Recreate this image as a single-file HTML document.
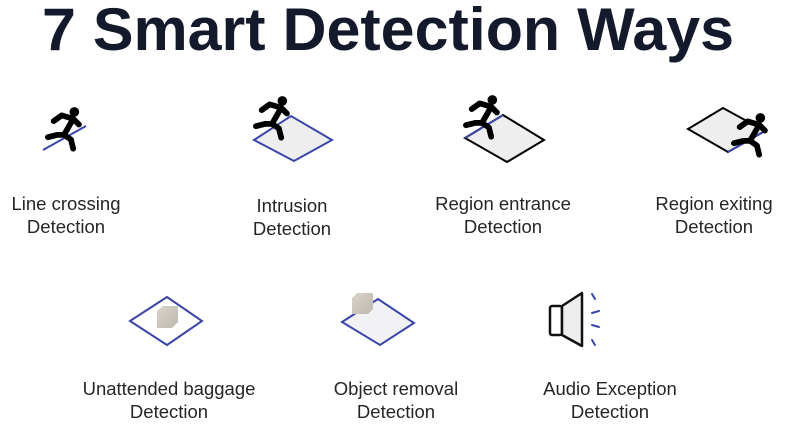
<!DOCTYPE html>
<html><head><meta charset="utf-8"><style>
html,body{margin:0;padding:0;background:#fff;}
svg{display:block}
text{font-family:"Liberation Sans",sans-serif;}
.l{font-size:18.5px;fill:#262626;text-anchor:middle}
</style></head><body>
<svg width="802" height="429" viewBox="0 0 802 429" xmlns="http://www.w3.org/2000/svg">
<defs>
<g id="run" transform="scale(1.15)">
<circle cx="9" cy="-14" r="4.2" fill="#000"/>
<path d="M-9,-6 L-2,-11 L8,-8 L13,-3 M8,-8 L0,6 L-6,6 L-14,8 M0,6 L6,10 L8,18" fill="none" stroke="#000" stroke-width="5" stroke-linecap="round" stroke-linejoin="round"/>
</g>
<linearGradient id="cb" x1="0" y1="0" x2="1" y2="1"><stop offset="0" stop-color="#d8d4cc"/><stop offset="1" stop-color="#bdb8ae"/></linearGradient>
</defs>
<text x="42" y="50" font-size="60" font-weight="bold" fill="#141a2c" textLength="692" lengthAdjust="spacingAndGlyphs">7 Smart Detection Ways</text>

<line x1="43" y1="150" x2="86" y2="126" stroke="#3a46a8" stroke-width="2"/>
<use href="#run" x="64" y="128"/>

<polygon points="254,140 291,116 332,140 294,161" fill="#eeeeef" stroke="#3a46a8" stroke-width="2"/>
<use href="#run" x="272" y="117"/>

<polygon points="465,138 503,115 544,140 507,162" fill="#eeeeef" stroke="#000" stroke-width="2"/>
<line x1="465" y1="138" x2="503" y2="115" stroke="#3a46a8" stroke-width="2"/>
<use href="#run" x="482" y="116"/>

<polygon points="688,129 723,108 765,131 728,152" fill="#eeeeef" stroke="#000" stroke-width="2"/>
<line x1="765" y1="131" x2="728" y2="152" stroke="#3a46a8" stroke-width="2"/>
<use href="#run" x="750" y="134"/>

<text class="l" x="66" y="210">Line crossing</text>
<text class="l" x="66" y="233">Detection</text>
<text class="l" x="292" y="212">Intrusion</text>
<text class="l" x="292" y="235">Detection</text>
<text class="l" x="503" y="210">Region entrance</text>
<text class="l" x="503" y="233">Detection</text>
<text class="l" x="714" y="210">Region exiting</text>
<text class="l" x="714" y="233">Detection</text>

<polygon points="130,321 167,297 202,321 167,345" fill="#fff" stroke="#3a46a8" stroke-width="2"/>
<polygon points="157,311 163,306 178,306 178,322 172,328 157,328" fill="url(#cb)"/>
<polygon points="342,322 378,299 414,323 380,345" fill="#f2f2f4" stroke="#3a46a8" stroke-width="2"/>
<polygon points="352,298 357,293 373,293 373,309 368,314 352,314" fill="url(#cb)"/>
<rect x="550" y="306" width="12" height="29" rx="2" fill="#fff" stroke="#111" stroke-width="2.5"/>
<path d="M562,306 L582,293 L582,346 L562,335 Z" fill="#eee" stroke="#111" stroke-width="2.5" stroke-linejoin="round"/>
<path d="M592,294 L595,299 M592,313 L599,311 M592,325 L599,327 M592,340 L595,345" stroke="#3a46a8" stroke-width="2" stroke-linecap="round"/>

<text class="l" x="169" y="395">Unattended baggage</text>
<text class="l" x="169" y="418">Detection</text>
<text class="l" x="396" y="395">Object removal</text>
<text class="l" x="396" y="418">Detection</text>
<text class="l" x="610" y="395">Audio Exception</text>
<text class="l" x="610" y="418">Detection</text>
</svg>
</body></html>
